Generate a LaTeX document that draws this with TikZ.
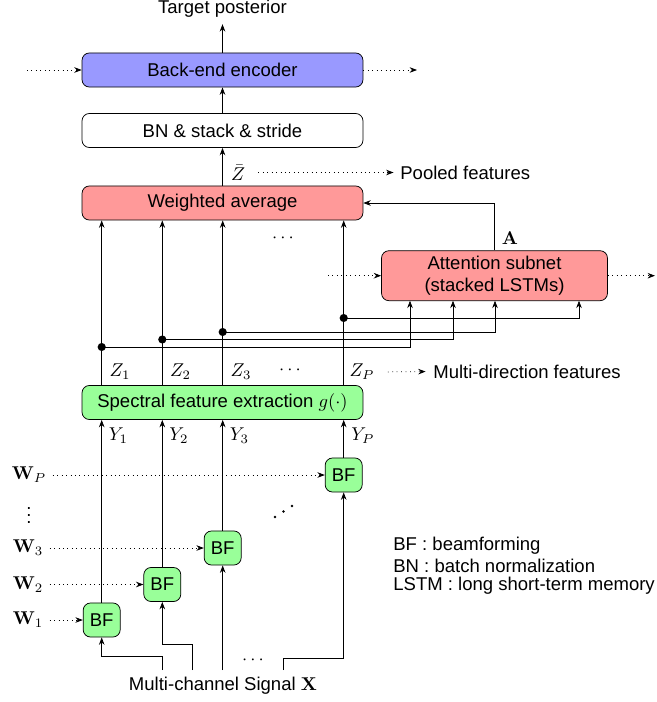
\documentclass[tikz,border=0pt]{standalone}
\usepackage[no-math]{fontspec}
\setmainfont{Liberation Sans}
\usetikzlibrary{arrows.meta,calc}
\begin{document}
\begin{tikzpicture}[x=0.54pt,y=-0.54pt,
 box/.style={draw,rounded corners=4pt,minimum width=151.7pt,minimum height=18.4pt,inner sep=0pt},
 bfbox/.style={draw,rounded corners=4pt,minimum width=20pt,minimum height=18.4pt,inner sep=0pt,fill=green!40},
 arr/.style={-{Stealth[length=4pt,width=3pt]}},
 darr/.style={arr,dotted},
 lbl/.style={inner sep=0pt},
 legend/.style={anchor=west,inner sep=0pt}]
\useasboundingbox (0,0) rectangle (657,702);

% main boxes
\node[box,fill=blue!40] (be) at (222.5,70) {Back-end encoder};
\node[box] (bn) at (222.5,130.5) {BN \& stack \& stride};
\node[box,fill=red!40] (wa) at (222.5,203) {Weighted average};
\node[box,fill=green!40] (sfe) at (222.5,402.5) {Spectral feature extraction $g(\cdot)$};
\node[draw,rounded corners=4pt,fill=red!40,minimum width=122pt,minimum height=27pt,inner sep=0pt,align=center] (att) at (494.5,275.7) {Attention subnet\\(stacked LSTMs)};

% BF boxes
\node[bfbox] (bf1) at (101.7,620) {BF};
\node[bfbox] (bf2) at (162.3,584.5) {BF};
\node[bfbox] (bf3) at (222.7,548) {BF};
\node[bfbox] (bfp) at (343.7,475) {BF};

% top
\node (tp) at (222.5,9) {Target posterior};
\draw[arr] (be) -- (tp);
\coordinate (bel) at (27,70);
\coordinate (ber) at (417,70);
\draw[darr] (bel) -- (be.west);
\draw[darr] (be.east) -- (ber);
\draw[arr] (bn) -- (be);
\draw[arr] (wa) -- (bn);
\node[lbl] (zbar) at (238,172.5) {$\bar{Z}$};
\node[anchor=west,inner sep=0pt] (pooled) at (400,172.5) {Pooled features};
\draw[darr,shorten <=7pt,shorten >=3.5pt] (zbar.east) -- (pooled.west);

% attention
\draw[arr] (att.north) |- (wa.east);
\node[lbl] (alab) at (510,238) {$\mathbf{A}$};
\coordinate (attl) at (328,275.7);
\coordinate (attr) at (655,275.7);
\draw[darr] (attl) -- (att.west);
\draw[darr] (att.east) -- (attr);
\node[lbl] (wdots) at (283,238) {$\cdots$};

% Z lines
\coordinate (d1) at (101.7,347);
\coordinate (d2) at (162.3,339.5);
\coordinate (d3) at (222.7,332);
\coordinate (dp) at (343.7,318);
\coordinate (a1) at (410,300.7);
\coordinate (a2) at (453,300.7);
\coordinate (a3) at (495,300.7);
\coordinate (a4) at (579,300.7);
\foreach \d in {d1,d2,d3,dp}{
  \draw[arr] (sfe.north -| \d) -- (wa.south -| \d);
  \fill (\d) circle (2.2pt);
}
\draw[arr] (d1) -| (a1);
\draw[arr] (d2) -| (a2);
\draw[arr] (d3) -| (a3);
\draw[arr] (dp) -| (a4);

\node[lbl] (z1) at (120,372) {$Z_1$};
\node[lbl] (z2) at (180.5,372) {$Z_2$};
\node[lbl] (z3) at (241,372) {$Z_3$};
\node[lbl] (zdots) at (290,370) {$\cdots$};
\node[lbl] (zp) at (362,372) {$Z_P$};
\node[anchor=west,inner sep=0pt] (mdf) at (433,371.5) {Multi-direction features};
\draw[darr,shorten <=7pt,shorten >=4pt] (zp.east) -- (mdf.west);

% BF to spectral
\foreach \b in {bf1,bf2,bf3,bfp}{
  \draw[arr] (\b.north) -- (sfe.south -| \b);
}
\node[lbl] (y1) at (118.5,436) {$Y_1$};
\node[lbl] (y2) at (179,436) {$Y_2$};
\node[lbl] (y3) at (239.5,436) {$Y_3$};
\node[lbl] (yp) at (363,436) {$Y_P$};

% W inputs
\node (w1) at (28,620) {$\mathbf{W}_1$};
\node (w2) at (28,584.5) {$\mathbf{W}_2$};
\node (w3) at (28,548) {$\mathbf{W}_3$};
\node (wp) at (29,475) {$\mathbf{W}_P$};
\node[lbl] (vd) at (29,510) {$\vdots$};
\draw[darr] (w1.east) -- (bf1.west);
\draw[darr] (w2.east) -- (bf2.west);
\draw[darr] (w3.east) -- (bf3.west);
\draw[darr] (wp.east) -- (bfp.west);
\fill (275,517) circle (0.7pt) (283.5,511.5) circle (0.7pt) (292,506) circle (0.7pt);

% bottom signal
\node (xsig) at (223,686) {Multi-channel Signal $\mathbf{X}$};
\coordinate (s1) at (162.3,670);
\coordinate (t1) at (162.3,656.7);
\coordinate (s2) at (192.3,670);
\coordinate (t2) at (192.3,644);
\coordinate (s3) at (222.7,670);
\coordinate (s4) at (283.3,670);
\coordinate (t4) at (283.3,658);
\draw[arr] (s1) -- (t1) -| (bf1.south);
\draw[arr] (s2) -- (t2) -| (bf2.south);
\draw[arr] (s3) -- (bf3.south);
\draw[arr] (s4) -- (t4) -| (bfp.south);
\node[lbl] (bdots) at (253,660) {$\cdots$};

% legend
\node[legend] (l1) at (393,546) {BF : beamforming};
\node[legend] (l2) at (393,566) {BN : batch normalization};
\node[legend] (l3) at (393,586) {LSTM : long short-term memory};
\end{tikzpicture}
\end{document}
